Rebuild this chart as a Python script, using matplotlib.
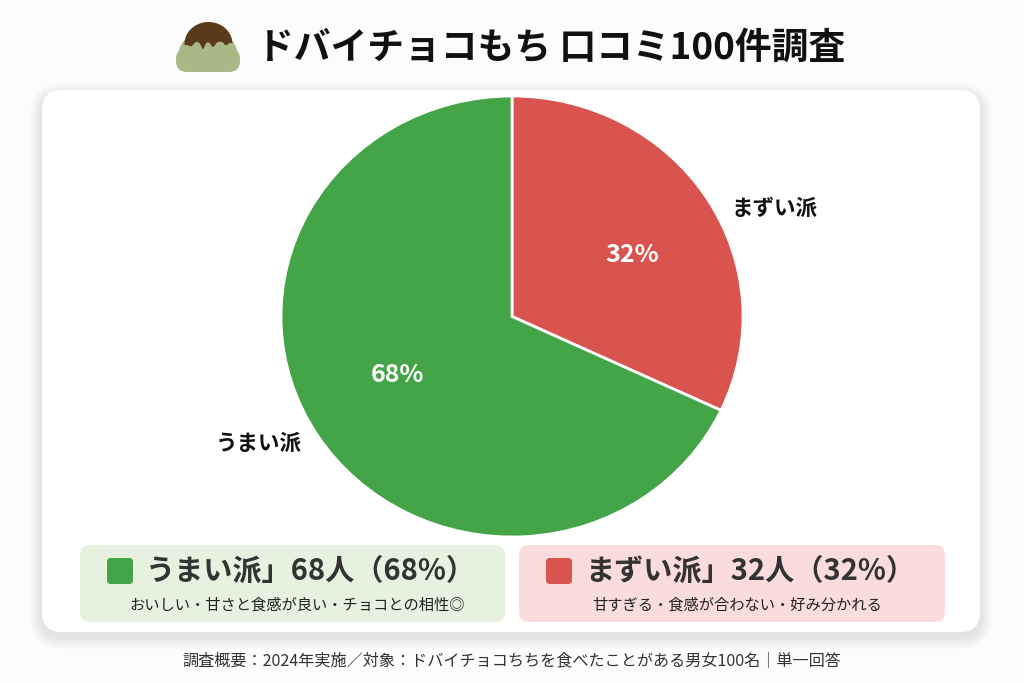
import numpy as np
import matplotlib
matplotlib.use("Agg")
import matplotlib.pyplot as plt
from matplotlib.patches import FancyBboxPatch, Polygon, Ellipse

plt.rcParams['font.family'] = ['Noto Sans CJK JP', 'DejaVu Sans']

# ---- data ----
title = "ドバイチョコもち 口コミ100件調査"
categories = ["まずい派", "うまい派"]
counts = [32, 68]
colors = ["#d9534f", "#43a547"]
legend_titles = ["うまい派」68人（68%）", "まずい派」32人（32%）"]
legend_notes = ["おいしい・甘さと食感が良い・チョコとの相性◎",
                "甘すぎる・食感が合わない・好み分かれる"]
legend_colors = ["#43a547", "#d9534f"]
legend_bg = ["#e7f1df", "#f9dcdb"]
footnote = "調査概要：2024年実施／対象：ドバイチョコちちを食べたことがある男女100名｜単一回答"

W, H = 1024, 683
fig = plt.figure(figsize=(W / 100, H / 100), dpi=100)
fig.patch.set_facecolor("#fcfcfc")

bg = fig.add_axes([0, 0, 1, 1])
bg.set_xlim(0, W)
bg.set_ylim(H, 0)
bg.axis("off")

# card shadow + card
for i in range(8):
    g = 12 - 1.5 * i
    bg.add_patch(FancyBboxPatch((42 - g, 90 - g + 5), 938 + 2 * g, 542 + 2 * g,
                                boxstyle="round,pad=0,rounding_size=%d" % (20 + g),
                                facecolor="black", edgecolor="none", alpha=0.012, zorder=1))
bg.add_patch(FancyBboxPatch((42, 90), 938, 542, boxstyle="round,pad=0,rounding_size=20",
                            facecolor="white", edgecolor="none", zorder=2))

# title
bg.text(257, 48, title, fontsize=26.5, fontweight="bold", color="#111111",
        ha="left", va="center", zorder=3)

# mochi icon
body = "#a9b886"
bg.add_patch(FancyBboxPatch((176, 48), 64, 24, boxstyle="round,pad=0,rounding_size=11",
                            facecolor=body, edgecolor="none", zorder=3))
bg.add_patch(Ellipse((208, 52), 58, 40, facecolor=body, edgecolor="none", zorder=3))
t = np.linspace(np.pi, 0, 80)
top_x = 208.5 + 24 * np.cos(t)
top_y = 44 - 22 * np.sin(t)
kx = [232.5, 229, 226, 222, 217, 213, 209, 206, 203, 200, 196, 191, 188, 184.5]
ky = [43, 43, 46, 41.5, 42, 48, 42, 42.5, 51, 43, 41.5, 47, 45, 45]
bx = np.linspace(232.5, 184.5, 80)
by = np.interp(-bx, -np.array(kx), ky)
by = np.convolve(np.pad(by, 2, mode="edge"), np.ones(5) / 5, mode="valid")
cap = np.column_stack([np.concatenate([top_x, bx]), np.concatenate([top_y, by])])
bg.add_patch(Polygon(cap, closed=True, facecolor="#5b3a1c", edgecolor="none", zorder=4))

# legend boxes
boxes = [(80, 545, 425, 77), (519, 545, 426, 77)]
for (x0, y0, w, h), ttl, note, c, b in zip(boxes, legend_titles, legend_notes, legend_colors, legend_bg):
    bg.add_patch(FancyBboxPatch((x0, y0), w, h, boxstyle="round,pad=0,rounding_size=10",
                                facecolor=b, edgecolor="none", zorder=3))
    bg.add_patch(FancyBboxPatch((x0 + 27, y0 + 13), 26, 26, boxstyle="round,pad=0,rounding_size=4",
                                facecolor=c, edgecolor="none", zorder=4))
    bg.text(x0 + w / 2 + 18, y0 + 26, ttl, fontsize=21, fontweight="bold", color="#333333",
            ha="center", va="center", zorder=4)
    bg.text(x0 + w / 2 + 5, y0 + 60, note, fontsize=11, color="#222222",
            ha="center", va="center", zorder=4)

bg.text(512, 661, footnote, fontsize=11.6, color="#333333", ha="center", va="center", zorder=4)

# pie
cx, cy, rx, ry = 512, 316.5, 231, 220.5
pax = fig.add_axes([(cx - rx) / W, (H - cy - ry) / H, 2 * rx / W, 2 * ry / H])
wedges, texts, autotexts = pax.pie(counts, labels=categories, colors=colors, startangle=90,
                                   counterclock=False, autopct="%d%%", pctdistance=0.57,
                                   labeldistance=1.1,
                                   wedgeprops=dict(edgecolor="white", linewidth=2),
                                   textprops=dict(fontsize=15.5, fontweight="bold", color="#111111"))
pax.set_aspect("auto")
pax.set_xlim(-1, 1)
pax.set_ylim(-1, 1)
pax.set_zorder(5)
pax.patch.set_alpha(0)
for at in autotexts:
    at.set_color("white")
    at.set_fontsize(18)
    at.set_fontweight("bold")
texts[0].set_position((0.952, 0.492))
texts[0].set_ha("left")
texts[1].set_position((-0.909, -0.574))
texts[1].set_ha("right")
autotexts[0].set_position((0.519, 0.279))
autotexts[1].set_position((-0.498, -0.265))

fig.savefig("out.png", dpi=100, facecolor=fig.get_facecolor())
